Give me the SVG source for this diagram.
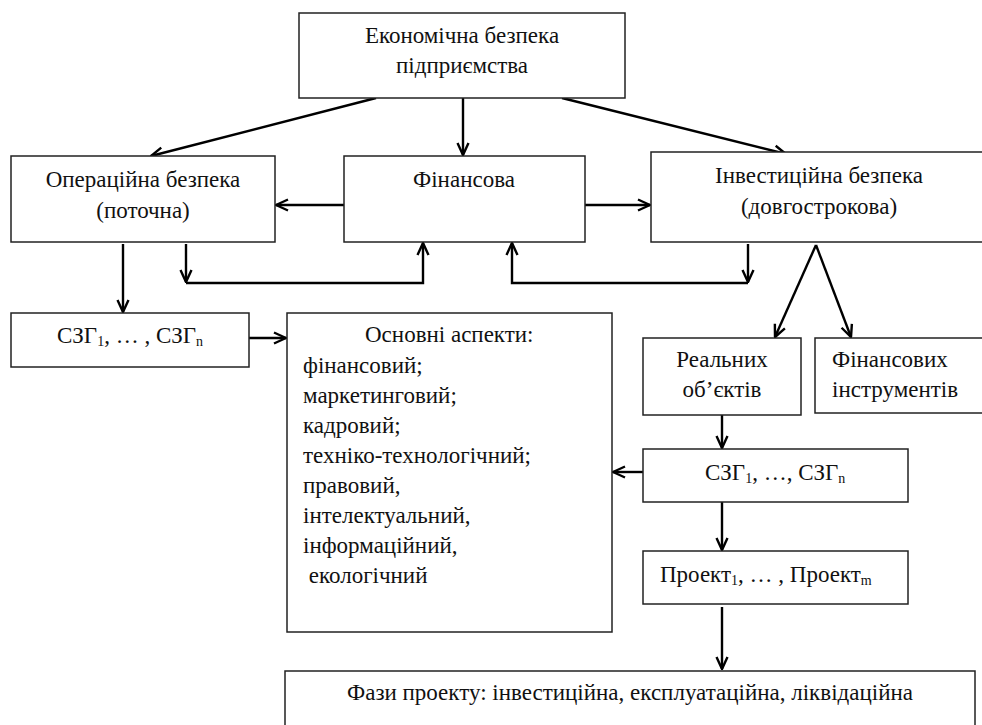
<svg xmlns="http://www.w3.org/2000/svg" width="982" height="725" viewBox="0 0 982 725">
<style>
.box{fill:#fff;stroke:#222;stroke-width:1.5}
.t{font-family:'Liberation Serif','DejaVu Serif',serif;font-size:23px;fill:#111}
.c{text-anchor:middle}
.sub{font-size:14px}
.ln{fill:none;stroke:#000;stroke-width:2.4}
</style>
<defs>
<marker id="ah" viewBox="0 0 14 14" refX="13" refY="7" markerWidth="14" markerHeight="14" markerUnits="userSpaceOnUse" orient="auto">
<path d="M1,1.5 L13,7 L1,12.5" fill="none" stroke="#000" stroke-width="2.4"/>
</marker>
</defs>
<rect width="982" height="725" fill="#fff"/>
<g id="connectors">
<line class="ln" x1="376" y1="98" x2="151" y2="156" marker-end="url(#ah)"/>
<line class="ln" x1="463" y1="92" x2="463" y2="155" marker-end="url(#ah)"/>
<line class="ln" x1="562" y1="98" x2="786" y2="154" marker-end="url(#ah)"/>
<line class="ln" x1="344" y1="205" x2="276" y2="205" marker-end="url(#ah)"/>
<line class="ln" x1="585" y1="205" x2="650" y2="205" marker-end="url(#ah)"/>
<line class="ln" x1="123" y1="244" x2="123" y2="312" marker-end="url(#ah)"/>
<line class="ln" x1="186" y1="244" x2="186" y2="282" marker-end="url(#ah)"/>
<polyline class="ln" points="186,283 423,283 423,243" marker-end="url(#ah)"/>
<line class="ln" x1="748" y1="244" x2="748" y2="282" marker-end="url(#ah)"/>
<polyline class="ln" points="748,283 512,283 512,243" marker-end="url(#ah)"/>
<line class="ln" x1="816" y1="245" x2="775" y2="337" marker-end="url(#ah)"/>
<line class="ln" x1="816" y1="245" x2="851" y2="337" marker-end="url(#ah)"/>
<line class="ln" x1="249" y1="338" x2="286" y2="338" marker-end="url(#ah)"/>
<line class="ln" x1="722" y1="415" x2="722" y2="448" marker-end="url(#ah)"/>
<line class="ln" x1="643" y1="472" x2="613" y2="472" marker-end="url(#ah)"/>
<line class="ln" x1="722" y1="502" x2="722" y2="550" marker-end="url(#ah)"/>
<line class="ln" x1="722" y1="607" x2="722" y2="669" marker-end="url(#ah)"/>
</g>
<g id="top">
<rect class="box" x="299" y="13" width="326" height="85"/>
<text class="t c" x="462" y="43">Економічна безпека</text>
<text class="t c" x="462" y="73">підприємства</text>
</g>
<g id="oper">
<rect class="box" x="11" y="156" width="264" height="86"/>
<text class="t c" x="143" y="187">Операційна безпека</text>
<text class="t c" x="143" y="218">(поточна)</text>
</g>
<g id="fin">
<rect class="box" x="344" y="156" width="241" height="86"/>
<text class="t c" x="464" y="187">Фінансова</text>
</g>
<g id="inv">
<rect class="box" x="651" y="152" width="340" height="90"/>
<text class="t c" x="819" y="183">Інвестиційна безпека</text>
<text class="t c" x="819" y="214">(довгострокова)</text>
</g>
<g id="szg-left">
<rect class="box" x="11" y="313" width="238" height="54"/>
<text class="t" x="57" y="343">СЗГ<tspan class="sub" dy="3">1</tspan><tspan dy="-3">, … , СЗГ</tspan><tspan class="sub" dy="3">n</tspan></text>
</g>
<g id="aspects">
<rect class="box" x="287" y="313" width="325" height="319"/>
<text class="t" x="365" y="342">Основні аспекти:</text>
<text class="t" x="303" y="373">фінансовий;</text>
<text class="t" x="303" y="403">маркетинговий;</text>
<text class="t" x="303" y="433">кадровий;</text>
<text class="t" x="303" y="463">техніко-технологічний;</text>
<text class="t" x="303" y="493">правовий,</text>
<text class="t" x="303" y="523">інтелектуальний,</text>
<text class="t" x="303" y="553">інформаційний,</text>
<text class="t" x="303" y="583" xml:space="preserve"> екологічний</text>
</g>
<g id="real">
<rect class="box" x="643" y="338" width="158" height="77"/>
<text class="t c" x="722" y="367">Реальних</text>
<text class="t c" x="722" y="397">об’єктів</text>
</g>
<g id="fininst">
<rect class="box" x="815" y="338" width="180" height="75"/>
<text class="t" x="832" y="367">Фінансових</text>
<text class="t" x="832" y="397">інструментів</text>
</g>
<g id="szg-right">
<rect class="box" x="643" y="449" width="265" height="53"/>
<text class="t" x="705" y="480">СЗГ<tspan class="sub" dy="3">1</tspan><tspan dy="-3">, …, СЗГ</tspan><tspan class="sub" dy="3">n</tspan></text>
</g>
<g id="project">
<rect class="box" x="643" y="551" width="265" height="53"/>
<text class="t" x="660" y="582">Проект<tspan class="sub" dy="3">1</tspan><tspan dy="-3">, … , Проект</tspan><tspan class="sub" dy="3">m</tspan></text>
</g>
<g id="phases">
<rect class="box" x="285" y="671" width="690" height="70"/>
<text class="t c" x="630" y="700">Фази проекту: інвестиційна, експлуатаційна, ліквідаційна</text>
</g>
</svg>
